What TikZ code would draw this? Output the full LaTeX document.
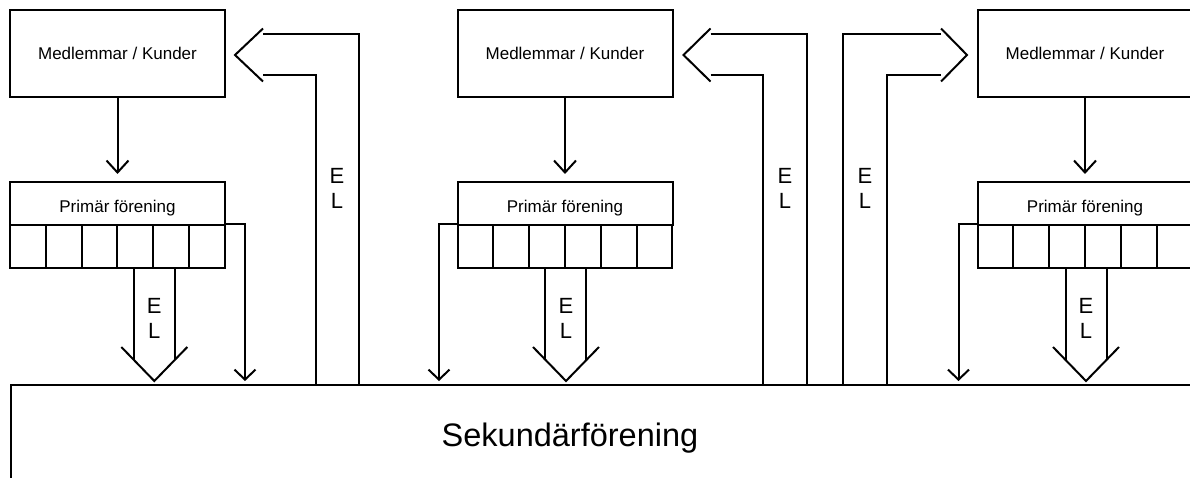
\documentclass[tikz,border=0pt]{standalone}
\usepackage{fontspec}
\setmainfont{Liberation Sans}
\usetikzlibrary{arrows.meta,calc}

\begin{document}
\begin{tikzpicture}[x=1pt, y=-1pt, line width=2pt,
    mbox/.style={draw, minimum width=215pt, minimum height=87pt, inner sep=0pt, font=\fontsize{17}{20}\selectfont},
    pbox/.style={mbox, minimum height=43.5pt, text height=18pt, text depth=0pt},
    cell/.style={draw, minimum width=35.83pt, minimum height=42.5pt, inner sep=0pt},
    flow/.style={-{Straight Barb[length=12pt,width=22pt]}, shorten >=7pt},
    side/.style={-{Straight Barb[length=10pt,width=21pt]}, shorten >=3pt},
    eltxt/.style={align=center, inner sep=0pt, font=\fontsize{22}{25}\selectfont}]
        \useasboundingbox (0,0) rectangle (1190,478);
        \clip (0,0) rectangle (1190,478);

        \node[draw, minimum width=1250pt, minimum height=150pt, anchor=north west] (sek) at (10,384) {};
        \node[font=\fontsize{32.5}{38}\selectfont] (sektxt) at (570,438) {Sekundärförening};

        \foreach \g/\x/\k in {1/10/4, 2/457.5/3, 3/977.5/3} {
            \node[mbox] (m\g) at (\x+107.5,53.5) {Medlemmar / Kunder};
            \node[pbox] (p\g) at (\x+107.5,203.75) {Primär förening};
            \foreach \i in {1,...,6}
                \node[cell] (c\g-\i) at (\x-17.92+35.83*\i,246.75) {};
            \draw[flow] (m\g) -- (p\g);

            \coordinate (d\g) at (c\g-\k.south east);
            \draw (d\g) ++(-20.5,0) -- ++(0,91) (d\g) ++(20.5,0) -- ++(0,91);
            \draw (d\g) ++(-33,78) -- ++(33,34) -- ++(33,-34);
            \node[eltxt] (el\g) at ($(d\g)+(0,49)$) {E\\L};
        }

        \draw[side] (c1-6.north east) -- ++(19,0) coordinate (e1) -- (e1 |- sek.north);
        \draw[side] (c2-1.north west) -- ++(-17.5,0) coordinate (e2) -- (e2 |- sek.north);
        \draw[side] (c3-1.north west) -- ++(-18,0) coordinate (e3) -- (e3 |- sek.north);

        \coordinate (r1) at ($(m1.east)+(9,1.5)$);
        \draw (r1) ++(28,-26.5) -- (r1) -- ++(28,26.5);
        \draw (r1) ++(28,-20.5) -| (359,0 |- sek.north);
        \draw (r1) ++(28,20.5) -| (316,0 |- sek.north);
        \node[eltxt] (er1) at (337,188) {E\\L};

        \coordinate (r2) at ($(m2.east)+(10,1.5)$);
        \draw (r2) ++(27,-26.5) -- (r2) -- ++(27,26.5);
        \draw (r2) ++(27,-20.5) -| (807,0 |- sek.north);
        \draw (r2) ++(27,20.5) -| (763,0 |- sek.north);
        \node[eltxt] (er2) at (785,188) {E\\L};

        \coordinate (r3) at ($(m3.west)+(-9.5,1.5)$);
        \draw (r3) ++(-26,-26.5) -- (r3) -- ++(-26,26.5);
        \draw (r3) ++(-26,-20.5) -| (843,0 |- sek.north);
        \draw (r3) ++(-26,20.5) -| (887,0 |- sek.north);
        \node[eltxt] (er3) at (865,188) {E\\L};
    \end{tikzpicture}
\end{document}
